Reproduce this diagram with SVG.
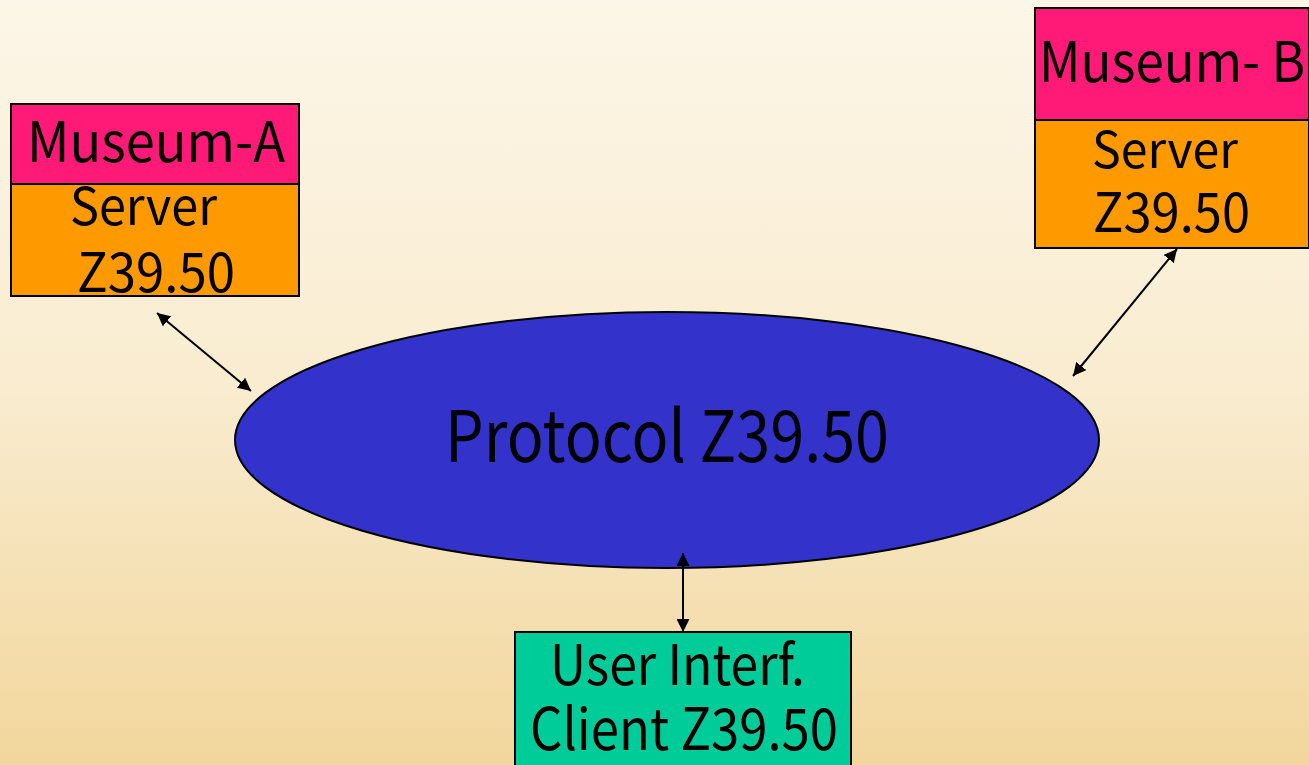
<svg xmlns="http://www.w3.org/2000/svg" width="1309" height="765" viewBox="0 0 1309 765">
<defs>
<linearGradient id="bg" x1="0" y1="0" x2="0" y2="1">
<stop offset="0" stop-color="#fcf6e8"/>
<stop offset="0.5" stop-color="#f9ecd0"/>
<stop offset="1" stop-color="#f2d69c"/>
</linearGradient>
<marker id="ah" viewBox="0 0 10 10" refX="10" refY="5" markerWidth="13" markerHeight="13" markerUnits="userSpaceOnUse" orient="auto-start-reverse">
<path d="M0,0 L10,5 L0,10 z" fill="#000"/>
</marker>
<style>
.box{stroke:#000;stroke-width:2}
.pink{fill:#ff1a78}
.orange{fill:#ff9900}
.green{fill:#00cc99}
.t{font-family:"Noto Sans CJK JP","Noto Sans",sans-serif;fill:#000;text-anchor:start}
.conn{stroke:#000;stroke-width:2;fill:none;marker-start:url(#ah);marker-end:url(#ah)}
</style>
</defs>
<rect width="1309" height="765" fill="url(#bg)"/>
<g id="museum-a">
<rect class="box pink" x="11" y="104" width="288" height="80"/>
<rect class="box orange" x="11" y="184" width="288" height="112"/>
<text class="t" x="27" y="162" font-size="56" textLength="258" lengthAdjust="spacingAndGlyphs">Museum-A</text>
<text class="t" x="70" y="225" font-size="52" textLength="147" lengthAdjust="spacingAndGlyphs">Server</text>
<text class="t" x="77" y="292" font-size="54" textLength="158" lengthAdjust="spacingAndGlyphs">Z39.50</text>
</g>
<g id="museum-b">
<rect class="box pink" x="1035" y="8" width="274" height="112"/>
<rect class="box orange" x="1035" y="120" width="274" height="128"/>
<text class="t" x="1039" y="82" font-size="56" textLength="266" lengthAdjust="spacingAndGlyphs">Museum- B</text>
<text class="t" x="1092" y="168" font-size="50" textLength="146" lengthAdjust="spacingAndGlyphs">Server</text>
<text class="t" x="1093" y="232" font-size="54" textLength="157" lengthAdjust="spacingAndGlyphs">Z39.50</text>
</g>
<g id="protocol">
<ellipse cx="667" cy="440" rx="432" ry="128" fill="#3333cc" stroke="#000" stroke-width="2"/>
<text class="t" x="445" y="462" font-size="71" textLength="444" lengthAdjust="spacingAndGlyphs">Protocol Z39.50</text>
</g>
<g id="client">
<rect class="box green" x="515" y="632" width="336" height="140"/>
<text class="t" x="550" y="685" font-size="56" textLength="255" lengthAdjust="spacingAndGlyphs">User Interf.</text>
<text class="t" x="530" y="750" font-size="58" textLength="308" lengthAdjust="spacingAndGlyphs">Client Z39.50</text>
</g>
<g id="connectors">
<line class="conn" x1="157" y1="313" x2="251" y2="391"/>
<line class="conn" x1="1177" y1="249" x2="1073" y2="376"/>
<line class="conn" x1="683" y1="553" x2="683" y2="632"/>
</g>
</svg>
